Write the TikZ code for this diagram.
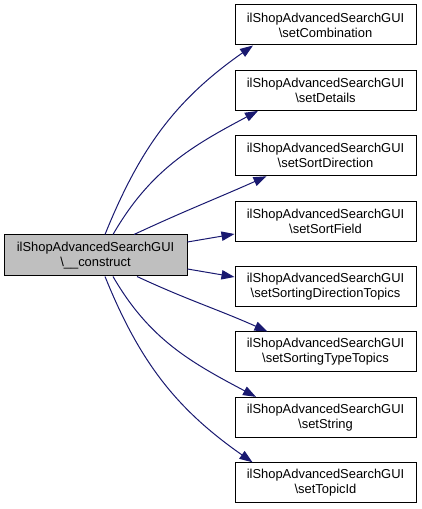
\documentclass[tikz,border=0pt]{standalone}
\usepackage{fontspec}
\setmainfont{Liberation Sans}
\usetikzlibrary{arrows.meta,calc}
\definecolor{edgeblue}{HTML}{191970}
\definecolor{boxgray}{HTML}{BFBFBF}

\begin{document}
\begin{tikzpicture}[x=0.75pt,y=0.75pt,
    func/.style={draw=black,line width=0.75pt,fill=white,align=center,
        minimum width=135.75pt,minimum height=30pt,inner sep=0pt,
        font=\fontsize{9.7}{11.25}\selectfont},
    call/.style={-{Triangle[length=9.75pt,width=7pt]},draw=edgeblue,line width=0.75pt}]
    \useasboundingbox (0,0) rectangle (421,509);
    \node[func,fill=boxgray,minimum width=137.25pt,minimum height=30.75pt] (construct) at (95.5,253.5) {
        ilShopAdvancedSearchGUI\\\textbackslash\_\_construct
    };
    \node[func] (comb) at (325.5,484) {
        ilShopAdvancedSearchGUI\\\textbackslash setCombination
    };
    \node[func] (details) at (325.5,418.6) {
        ilShopAdvancedSearchGUI\\\textbackslash setDetails
    };
    \node[func] (sortdir) at (325.5,353.2) {
        ilShopAdvancedSearchGUI\\\textbackslash setSortDirection
    };
    \node[func] (sortfield) at (325.5,287.8) {
        ilShopAdvancedSearchGUI\\\textbackslash setSortField
    };
    \node[func] (sortdirtopics) at (325.5,222.4) {
        ilShopAdvancedSearchGUI\\\textbackslash setSortingDirectionTopics
    };
    \node[func] (sorttypetopics) at (325.5,157) {
        ilShopAdvancedSearchGUI\\\textbackslash setSortingTypeTopics
    };
    \node[func] (string) at (325.5,91.6) {
        ilShopAdvancedSearchGUI\\\textbackslash setString
    };
    \node[func] (topicid) at (325.5,26.2) {
        ilShopAdvancedSearchGUI\\\textbackslash setTopicId
    };
    \draw[call] ($(construct.north)+(9.5,0)$) to[out=68,in=215] ($(comb.south)+(-72.5,0)$);
    \draw[call] ($(construct.north)+(17.5,0)$) to[out=60,in=208] ($(details.south)+(-67.5,0)$);
    \draw[call] ($(construct.north)+(38.5,0)$) to[out=25,in=204] ($(sortdir.south)+(-59,0)$);
    \draw[call] ($(construct.east)+(0,13.5)$) -- ($(sortfield.west)+(0,-12.8)$);
    \draw[call] ($(construct.east)+(0,-13.5)$) -- ($(sortdirtopics.west)+(0,9.6)$);
    \draw[call] ($(construct.south)+(41.5,0)$) to[out=-25,in=156] ($(sorttypetopics.north)+(-58,0)$);
    \draw[call] ($(construct.south)+(17.5,0)$) to[out=-60,in=152] ($(string.north)+(-69.5,0)$);
    \draw[call] ($(construct.south)+(9.5,0)$) to[out=-68,in=145] ($(topicid.north)+(-73,0)$);
\end{tikzpicture}
\end{document}
